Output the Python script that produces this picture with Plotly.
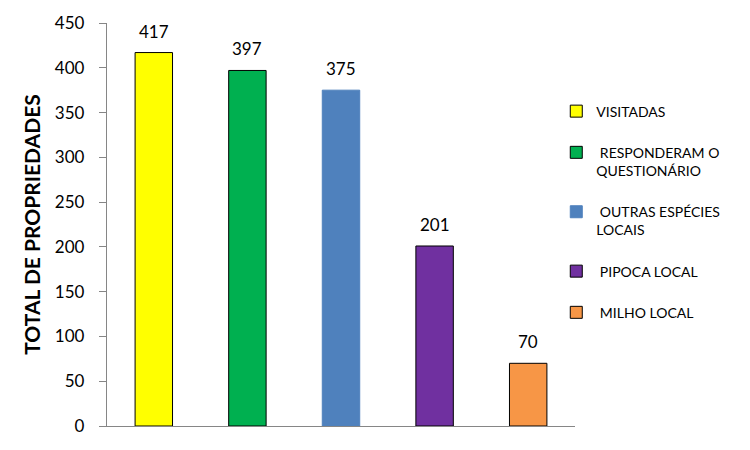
import plotly.graph_objects as go

categories = ["VISITADAS", "RESPONDERAM O<br>QUESTIONÁRIO", "OUTRAS ESPÉCIES<br>LOCAIS", "PIPOCA LOCAL", "MILHO LOCAL"]
legend_names = ["VISITADAS", " RESPONDERAM O<br>QUESTIONÁRIO", " OUTRAS ESPÉCIES<br>LOCAIS", " PIPOCA LOCAL", " MILHO LOCAL"]
values = [417, 397, 375, 201, 70]
colors = ["#FFFF00", "#00B050", "#4F81BD", "#7030A0", "#F79646"]
outlines = ["#000000", "#000000", "#4F81BD", "#000000", "#000000"]
y_ticks = [0, 50, 100, 150, 200, 250, 300, 350, 400, 450]

FONT = "Lato, 'Open Sans', sans-serif"

fig = go.Figure()
for i, (cat, name, v, c, o) in enumerate(zip(categories, legend_names, values, colors, outlines)):
    fig.add_trace(go.Bar(
        x=[cat], y=[v], name=name, legendgroup=f"g{i}",
        marker=dict(color=c, line=dict(color=o, width=1)),
        width=0.4,
    ))
    fig.add_annotation(x=cat, y=v, text=str(v), showarrow=False,
                       yanchor="bottom", yshift=9,
                       font=dict(family=FONT, size=17, color="#000"))

fig.update_layout(
    width=750, height=450,
    margin=dict(l=107, r=175, t=23, b=24),
    barmode="overlay",
    plot_bgcolor="white", paper_bgcolor="white",
    font=dict(family=FONT, color="#000"),
    showlegend=True,
    legend=dict(x=0.96, xanchor="left", y=0.82, yanchor="top",
                font=dict(family=FONT, size=14, color="#000"),
                valign="top", tracegroupgap=20, itemwidth=30,
                bgcolor="rgba(0,0,0,0)"),
    xaxis=dict(type="category", categoryorder="array", categoryarray=categories,
               showticklabels=False, ticks="", showline=True, linecolor="#868686",
               linewidth=1.3, showgrid=False, zeroline=False, range=[-0.5, 4.5]),
    yaxis=dict(range=[0, 450], tickvals=y_ticks, ticks="outside", ticklen=7,
               tickcolor="#868686", showline=True, linecolor="#868686", linewidth=1.3,
               showgrid=False, zeroline=False, ticklabelstandoff=11,
               tickfont=dict(family=FONT, size=17, color="#000"),
               title=dict(text="<b>TOTAL DE PROPRIEDADES</b>", standoff=8,
                          font=dict(family=FONT, size=21, color="#000"))),
)

fig.write_html("out.html")
